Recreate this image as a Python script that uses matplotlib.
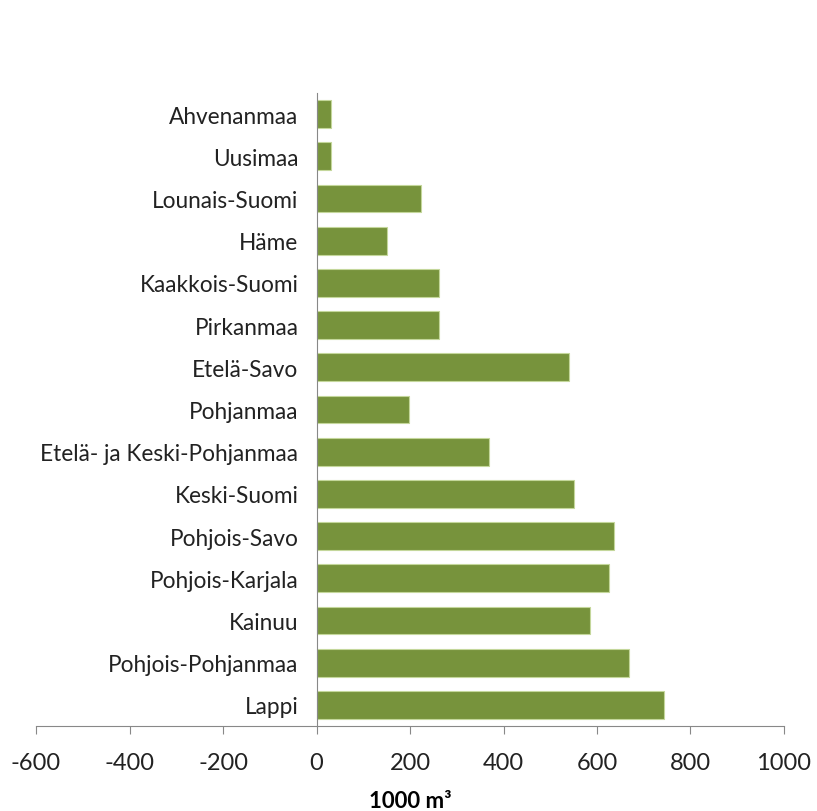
import matplotlib.pyplot as plt

# Regions, top to bottom
regions = ['Ahvenanmaa', 'Uusimaa', 'Lounais-Suomi', 'Häme', 'Kaakkois-Suomi',
           'Pirkanmaa', 'Etelä-Savo', 'Pohjanmaa', 'Etelä- ja Keski-Pohjanmaa',
           'Keski-Suomi', 'Pohjois-Savo', 'Pohjois-Karjala', 'Kainuu',
           'Pohjois-Pohjanmaa', 'Lappi']
values = [31, 31, 223, 150, 263, 261, 541, 197, 368, 550, 637, 626, 585, 669, 744]
xticks = [-600, -400, -200, 0, 200, 400, 600, 800, 1000]

plt.rcParams['font.family'] = ['Lato', 'DejaVu Sans']

fig = plt.figure(figsize=(8.17, 8.12), dpi=100)
ax = fig.add_axes([0.0441, 0.1047, 0.9155, 0.7795])

ypos = list(range(len(regions)))[::-1]
ax.barh(ypos, values, height=0.66, color='#77933C', edgecolor='#C4D79B', linewidth=0.8)

for s in ['top', 'right']:
    ax.spines[s].set_visible(False)
ax.spines['left'].set_position(('data', 0))
ax.spines['left'].set_color('#888888')
ax.spines['bottom'].set_color('#888888')

ax.set_xlim(-600, 1000)
ax.set_ylim(-0.5, len(regions) - 0.5)
ax.set_xticks(xticks)
ax.set_xticklabels([str(t) for t in xticks], fontsize=17, color='#222222')
ax.set_yticks(ypos)
ax.set_yticklabels(regions, fontsize=16.3, color='#222222')
ax.tick_params(axis='y', length=0, pad=13)
ax.tick_params(axis='x', length=5.8, color='#888888', direction='out', pad=13)

ax.set_xlabel('1000 m³', fontsize=16, fontweight='bold', labelpad=12)

fig.savefig('out.png', dpi=100)
